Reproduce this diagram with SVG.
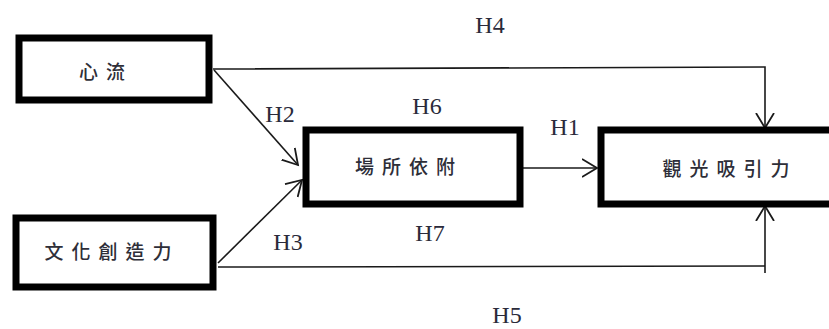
<svg xmlns="http://www.w3.org/2000/svg" width="829" height="329" viewBox="0 0 829 329">
<style>
.box{fill:#fff;stroke:#000;stroke-width:7}
.cjk{font-family:"Noto Sans CJK TC","Noto Sans CJK SC",sans-serif;font-size:19px;font-weight:500;fill:#2e2e38;text-anchor:middle;letter-spacing:8px}
.lbl{font-family:"Liberation Serif","Times New Roman",serif;font-size:24px;fill:#2a2a3a;text-anchor:middle}
.ln{fill:none;stroke:#1a1a1a;stroke-width:1.6}
</style>
<defs>
<marker id="arr" markerUnits="userSpaceOnUse" markerWidth="20" markerHeight="22" refX="15" refY="10" orient="auto" viewBox="0 0 20 20">
<path d="M0,1 L15,10 L0,19" fill="none" stroke="#1a1a1a" stroke-width="1.8"/>
</marker>
</defs>
<g id="connectors">
<path class="ln" d="M213,69 L765,67 L765,128" marker-end="url(#arr)"/>
<path class="ln" d="M214,70 L298,165" marker-end="url(#arr)"/>
<path class="ln" d="M218,263 L302,180" marker-end="url(#arr)"/>
<path class="ln" d="M523,168 L597,168" marker-end="url(#arr)"/>
<path class="ln" d="M218,267 L765,266"/>
<path class="ln" d="M765,273 L765,206" marker-end="url(#arr)"/>
</g>
<g id="n-xinliu">
<rect class="box" x="19" y="38" width="190" height="62"/>
<text class="cjk" x="106" y="79">心流</text>
</g>
<g id="n-wenhua">
<rect class="box" x="16" y="218" width="197" height="69"/>
<text class="cjk" x="112" y="259">文化創造力</text>
</g>
<g id="n-changsuo">
<rect class="box" x="306" y="130" width="214" height="74"/>
<text class="cjk" x="409" y="174">場所依附</text>
</g>
<g id="n-guanguang">
<rect class="box" x="601" y="130" width="240" height="74"/>
<text class="cjk" x="730" y="176">觀光吸引力</text>
</g>
<g id="labels">
<text class="lbl" x="490" y="33">H4</text>
<text class="lbl" x="280" y="122">H2</text>
<text class="lbl" x="427" y="114">H6</text>
<text class="lbl" x="565" y="135">H1</text>
<text class="lbl" x="288" y="250">H3</text>
<text class="lbl" x="430" y="241">H7</text>
<text class="lbl" x="507" y="323">H5</text>
</g>
</svg>
